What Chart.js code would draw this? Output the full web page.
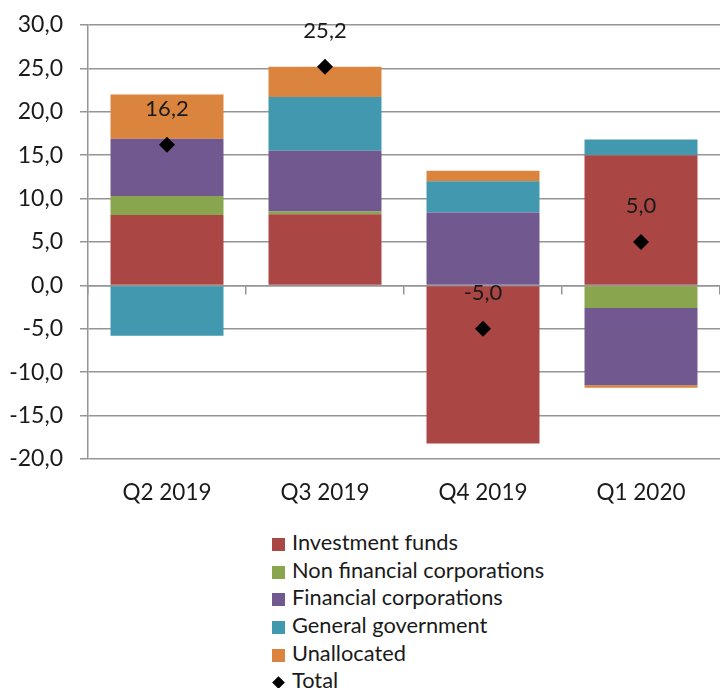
<!DOCTYPE html>
<html>
<head>
<meta charset="utf-8">
<script src="https://cdn.jsdelivr.net/npm/chart.js@4/dist/chart.umd.min.js"></script>
<style>
  body { margin: 0; background: #fff; }
  #wrap { position: relative; width: 720px; height: 688px; }
  #box { position: absolute; left: 0; top: 0; width: 720px; height: 520px; }
  #legend { position: absolute; left: 272px; top: 528px; font-family: Lato, sans-serif; font-size: 21.8px; color: #1a1a1a; }
  #legend div { height: 27.7px; line-height: 27.7px; white-space: nowrap; }
  #legend span { display: inline-block; width: 13px; height: 13px; margin-right: 7px; vertical-align: -1px; }
</style>
</head>
<body>
<div id="wrap">
  <div id="box"><canvas id="chart" width="720" height="520"></canvas></div>
  <div id="legend"></div>
</div>
<script>
var quarters = ["Q2 2019", "Q3 2019", "Q4 2019", "Q1 2020"];
var investmentFunds = [8.1, 8.2, -18.2, 15.0];
var nonFinancial = [2.2, 0.3, 0, -2.6];
var financial = [6.6, 7.0, 8.4, -8.9];
var generalGov = [-5.8, 6.2, 3.6, 1.8];
var unallocated = [5.1, 3.5, 1.2, -0.3];
var totals = [16.2, 25.2, -5.0, 5.0];

var fnt = "Lato, sans-serif";
var gridCol = "#959595";

function fmt(v) { return v.toFixed(1).replace(".", ","); }

// value labels above the Total diamonds
var labelPlugin = {
  id: "totalLabels",
  afterDatasetsDraw: function (chart) {
    var ctx = chart.ctx;
    var meta = chart.getDatasetMeta(5);
    ctx.save();
    ctx.font = "22px " + fnt;
    ctx.fillStyle = "#1a1a1a";
    ctx.textAlign = "center";
    ctx.textBaseline = "middle";
    meta.data.forEach(function (pt, i) {
      ctx.fillText(fmt(totals[i]), pt.x, pt.y - 36);
    });
    ctx.restore();
  }
};

var ctx = document.getElementById("chart");
var myChart = new Chart(ctx, {
  type: "bar",
  data: {
    labels: quarters,
    datasets: [
      { label: "Investment funds", data: investmentFunds, backgroundColor: "#AA4643" },
      { label: "Non financial corporations", data: nonFinancial, backgroundColor: "#89A54E" },
      { label: "Financial corporations", data: financial, backgroundColor: "#71588F" },
      { label: "General government", data: generalGov, backgroundColor: "#4198AF" },
      { label: "Unallocated", data: unallocated, backgroundColor: "#DB843D" },
      {
        label: "Total", type: "line", data: totals, showLine: false, order: -1,
        pointStyle: "rectRot", pointRadius: 8, pointHoverRadius: 8,
        backgroundColor: "#000", borderColor: "#000", borderWidth: 0
      }
    ]
  },
  options: {
    responsive: false,
    animation: false,
    layout: { autoPadding: false, padding: { top: 25, right: 0, left: 0, bottom: 0 } },
    datasets: { bar: { categoryPercentage: 0.715, barPercentage: 1 } },
    plugins: { legend: { display: false }, tooltip: { enabled: false } },
    scales: {
      x: {
        stacked: true,
        position: { y: 0 },
        ticks: { display: false },
        grid: { drawOnChartArea: false, drawTicks: true, tickLength: 8, color: gridCol, lineWidth: 1.5 },
        border: { display: true, color: gridCol, width: 1.5 },
        afterFit: function (s) { s.height = 0; s.paddingLeft = 0; s.paddingRight = 0; }
      },
      xLab: {
        type: "category",
        position: "bottom",
        labels: quarters,
        grid: { display: false, drawTicks: false },
        border: { display: false },
        ticks: { padding: 20, color: "#1a1a1a", font: { family: fnt, size: 22.5 } },
        afterFit: function (s) { s.height = 61; s.paddingLeft = 0; s.paddingRight = 0; }
      },
      y: {
        stacked: true,
        min: -20, max: 30,
        ticks: {
          stepSize: 5, padding: 17, color: "#1a1a1a",
          font: { family: fnt, size: 23 },
          callback: function (v) { return fmt(v); }
        },
        grid: { color: gridCol, lineWidth: 1.5, tickLength: 8 },
        border: { display: true, color: gridCol, width: 1.5 },
        afterFit: function (s) { s.width = 88; s.paddingTop = 0; s.paddingBottom = 0; }
      }
    }
  },
  plugins: [labelPlugin]
});

var lg = document.getElementById("legend");
myChart.data.datasets.forEach(function (d) {
  var row = document.createElement("div");
  if (d.type === "line") {
    row.innerHTML = '<span style="width:9px;height:9px;background:#000;transform:rotate(45deg);margin:0 9px 0 2px;vertical-align:1px"></span>' + d.label;
  } else {
    row.innerHTML = '<span style="background:' + d.backgroundColor + '"></span>' + d.label;
  }
  lg.appendChild(row);
});
</script>
</body>
</html>
